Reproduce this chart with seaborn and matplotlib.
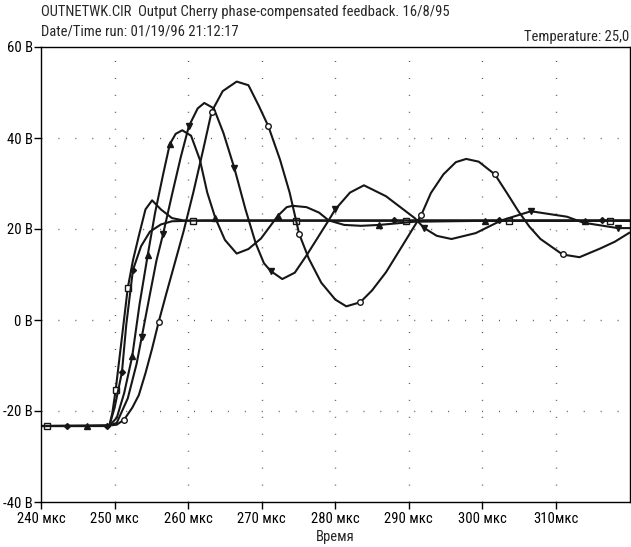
import numpy as np
import pandas as pd
import seaborn as sns
import matplotlib.pyplot as plt
from matplotlib import font_manager

# trace A - square markers, fastest, small overshoot
a_t = [240.0, 240.8, 249.0, 249.3, 249.7, 250.15, 250.9, 251.8, 252.5, 253.3, 254.2, 255.1, 256.3,
       257.8, 259.3, 260.7, 265.0, 270.0, 274.6, 280.0, 289.6, 295.0, 303.6, 310.0, 317.4, 320.0]
a_v = [-23.3, -23.3, -23.3, -23.2, -20.4, -15.4, -5.2, 7.1, 13.1, 18.5, 24.3, 26.3, 24.3,
       22.4, 21.9, 21.8, 21.8, 21.8, 21.8, 21.8, 21.8, 21.8, 21.8, 21.8, 21.8, 21.8]
a_marks = [240.8, 250.15, 251.8, 260.7, 274.6, 289.6, 303.6, 317.4]

# trace B - diamonds, no overshoot
b_t = [240.0, 243.5, 249.0, 249.3, 250.0, 251.0, 251.6, 252.5, 253.6, 254.8, 256.3, 257.8,
       262.0, 270.0, 280.0, 288.0, 295.0, 302.3, 310.0, 316.3, 320.0]
b_v = [-23.3, -23.3, -23.3, -23.2, -19.3, -11.5, -0.9, 11.0, 16.2, 19.4, 21.0, 21.7,
       21.9, 21.9, 21.9, 21.9, 21.9, 21.9, 21.9, 21.9, 21.9]
b_marks = [243.5, 249.0, 251.0, 252.5, 288.0, 302.3, 316.3]

# trace C - triangles up
c_t = [240.0, 246.3, 249.3, 250.3, 251.3, 252.4, 253.4, 254.5, 255.5, 256.6, 257.5, 258.3, 259.2,
       260.4, 261.6, 262.6, 263.7, 265.0, 266.6, 268.2, 269.9, 272.2, 273.4, 274.2, 276.1, 277.8,
       279.1, 281.2, 283.5, 286.0, 290.8, 300.3, 310.0, 314.0, 320.0]
c_v = [-23.3, -23.3, -23.2, -21.5, -16.1, -8.0, 3.5, 14.2, 23.5, 32.0, 38.6, 40.9, 41.7,
       40.5, 35.2, 28.0, 22.4, 17.6, 14.6, 15.6, 17.9, 22.9, 24.8, 25.1, 24.8, 23.6,
       21.9, 20.9, 20.7, 20.9, 21.6, 21.8, 21.8, 21.8, 21.8]
c_marks = [246.3, 252.4, 254.5, 257.5, 263.7, 272.2, 286.0, 300.3, 314.0]

# trace D - triangles down
d_t = [240.0, 249.3, 250.3, 251.8, 253.0, 253.7, 254.8, 255.7, 256.6, 257.8, 259.0, 260.1, 261.3,
       262.2, 263.5, 264.8, 266.3, 267.8, 269.2, 270.3, 271.2, 272.8, 274.5, 276.1, 279.1, 280.0,
       282.0, 283.9, 286.9, 290.8, 292.1, 293.8, 295.8, 299.1, 302.6, 306.6, 311.5, 313.7, 318.4, 320.0]
d_v = [-23.3, -23.2, -22.6, -17.2, -9.6, -3.7, 5.6, 13.1, 18.9, 27.5, 35.8, 42.6, 46.5,
       47.7, 46.5, 41.1, 33.3, 24.3, 16.8, 12.5, 10.8, 9.0, 10.4, 14.2, 21.9, 24.3,
       28.0, 29.6, 27.2, 22.4, 20.2, 18.5, 17.8, 19.1, 21.9, 23.9, 22.7, 21.4, 20.2, 20.2]
d_marks = [253.7, 256.6, 260.1, 266.3, 271.2, 280.0, 292.1, 306.6, 318.4]

# trace E - circles, slowest, largest ringing
e_t = [240.0, 249.3, 250.3, 251.3, 252.4, 253.3, 254.2, 255.1, 256.0, 257.0, 258.1, 259.4, 260.7,
       262.0, 263.2, 264.7, 266.6, 268.2, 269.6, 270.9, 272.5, 273.8, 275.1, 276.4, 278.1, 280.0,
       281.5, 283.4, 285.0, 286.9, 289.0, 291.7, 293.0, 294.7, 296.4, 297.8, 299.5, 301.7, 303.3,
       304.9, 306.4, 307.9, 310.9, 313.2, 316.0, 318.0, 320.0]
e_v = [-23.3, -23.2, -23.0, -21.9, -19.3, -16.5, -11.7, -6.3, -0.4, 5.6, 12.0, 19.6, 28.0,
       37.1, 45.8, 50.3, 52.4, 51.6, 47.1, 42.6, 35.2, 28.0, 18.9, 13.5, 8.2, 4.5,
       3.0, 3.9, 6.5, 10.5, 16.0, 23.1, 27.9, 32.0, 34.7, 35.4, 34.8, 32.0, 28.0,
       23.9, 20.5, 17.8, 14.4, 13.8, 15.7, 17.2, 19.2]
e_marks = [251.3, 256.0, 263.2, 270.9, 275.1, 283.4, 291.7, 301.7, 310.9]

x_ticks = [240, 250, 260, 270, 280, 290, 300, 310]
x_labels = ['240 мкс', '250 мкс', '260 мкс', '270 мкс', '280 мкс', '290 мкс', '300 мкс', '310мкс']
y_ticks = [60, 40, 20, 0, -20, -40]
y_labels = ['60 В', '40 В', '20 В', '0 В', '-20 В', '-40 В']

sns.set_style('white')

# the printout uses a condensed sans; take one if the box has it
fonts = font_manager.fontManager.ttflist
names = {f.name for f in fonts}
fam, stretch, fs = 'Liberation Sans', 'normal', 8.6
for cand in ['Liberation Sans Narrow', 'Roboto Condensed', 'Open Sans Condensed', 'Noto Sans Condensed']:
    if cand in names:
        fam, stretch, fs = cand, 'normal', 10.5
        break
else:
    for f in fonts:
        if f.name in ('Roboto', 'Noto Sans', 'DejaVu Sans') and f.stretch in ('condensed', 'semi-condensed'):
            fam, stretch, fs = f.name, f.stretch, 10.5
            break
plt.rcParams['font.family'] = [fam, 'DejaVu Sans']
plt.rcParams['font.stretch'] = stretch

W, H = 631, 547
fig = plt.figure(figsize=(W / 100, H / 100), dpi=100)
ax = fig.add_axes([41 / W, 45 / H, 588.5 / W, 455 / H])

ink = '#161616'
# dotted grid like the Probe printout
for xv in x_ticks[1:]:
    ax.axvline(xv, color='#555555', lw=1.0, ls=(0, (0.7, 11.5)), zorder=0)
for yv in y_ticks[1:-1]:
    ax.axhline(yv, color='#555555', lw=1.0, ls=(0, (0.7, 11.5)), zorder=0)

traces = [
    (a_t, a_v, a_marks, 's', 'white', 4.0),
    (b_t, b_v, b_marks, 'D', ink, 3.0),
    (c_t, c_v, c_marks, '^', ink, 4.5),
    (d_t, d_v, d_marks, 'v', ink, 4.5),
    (e_t, e_v, e_marks, 'o', 'white', 4.0),
]
for t, v, marks, mk, face, ms in traces:
    df = pd.DataFrame({'t': t, 'v': v})
    idx = [t.index(m) for m in marks]
    sns.lineplot(data=df, x='t', y='v', ax=ax, color=ink, lw=1.5, marker=mk,
                 markevery=idx, markersize=ms, markerfacecolor=face,
                 markeredgecolor=ink, markeredgewidth=1.0,
                 estimator=None, errorbar=None, sort=False)

ax.set_xlim(240, 320)
ax.set_ylim(-40, 60)
ax.set_xticks(x_ticks)
ax.set_xticklabels(x_labels)
ax.set_yticks(y_ticks)
ax.set_yticklabels(y_labels)
ax.tick_params(direction='out', length=5, width=1, color='black', labelsize=fs, pad=1,
               labelcolor='black', top=False, right=False, left=True, bottom=True)
ax.tick_params(axis='x', pad=2)
for s in ax.spines.values():
    s.set_visible(True)
    s.set_color('black')
    s.set_linewidth(1.0)
ax.set_xlabel('Время', fontsize=fs, labelpad=3)
ax.set_ylabel('')

fig.text(41 / W, 1 - 12 / H, 'OUTNETWK.CIR  Output Cherry phase-compensated feedback. 16/8/95',
         fontsize=fs, va='center', ha='left')
fig.text(41 / W, 1 - 31 / H, 'Date/Time run: 01/19/96 21:12:17', fontsize=fs, va='center', ha='left')
fig.text(629 / W, 1 - 37 / H, 'Temperature: 25,0', fontsize=fs, va='center', ha='right')

fig.savefig('out.png', dpi=100)
